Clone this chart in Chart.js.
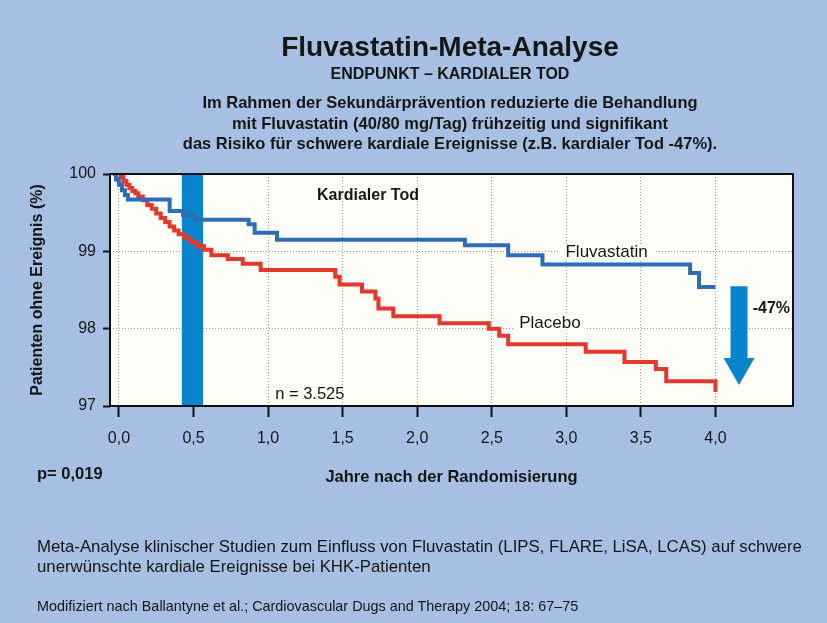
<!DOCTYPE html>
<html lang="de">
<head>
<meta charset="utf-8">
<title>Fluvastatin-Meta-Analyse</title>
<script src="https://cdn.jsdelivr.net/npm/chart.js@4.4.1/dist/chart.umd.min.js"></script>
<style>
  body { margin: 0; background: #a6bfe3; }
  #wrap { position: relative; width: 827px; height: 623px; overflow: hidden; background: #a6bfe3; }
  #chart { position: absolute; left: 0; top: 0; }
  .txt { position: absolute; color: #161616; font-family: Arial, "Liberation Sans", Helvetica, sans-serif; white-space: nowrap; }
  .head { left: 0; width: 900px; text-align: center; font-weight: bold; }
</style>
</head>
<body>
<div id="wrap">
  <canvas id="chart" width="827" height="623"></canvas>
  <div class="txt head" style="top:32px;font-size:28px;line-height:30px;">Fluvastatin-Meta-Analyse</div>
  <div class="txt head" style="top:64px;font-size:16px;line-height:20px;">ENDPUNKT – KARDIALER TOD</div>
  <div class="txt head" style="top:92px;font-size:16.5px;line-height:20.5px;">Im Rahmen der Sekundärprävention reduzierte die Behandlung<br>mit Fluvastatin (40/80 mg/Tag) frühzeitig und signifikant<br>das Risiko für schwere kardiale Ereignisse (z.B. kardialer Tod -47%).</div>
  <div class="txt" style="left:37px;top:463px;font-size:16.5px;line-height:20px;font-weight:bold;">p= 0,019</div>
  <div class="txt" style="left:37px;top:537px;font-size:16.8px;line-height:20px;">Meta-Analyse klinischer Studien zum Einfluss von Fluvastatin (LIPS, FLARE, LiSA, LCAS) auf schwere<br>unerwünschte kardiale Ereignisse bei KHK-Patienten</div>
  <div class="txt" style="left:37px;top:598px;font-size:14.4px;line-height:16px;">Modifiziert nach Ballantyne et al.; Cardiovascular Dugs and Therapy 2004; 18: 67–75</div>
</div>
<script>
// Kaplan-Meier steps (years, % without event)
const fluvaYears  = [-0.04, -0.02, 0.00, 0.02, 0.04, 0.06, 0.34, 0.43, 0.51, 0.87, 0.91, 1.06, 2.32, 2.61, 2.84, 3.83, 3.89, 4.00];
const fluvaValues = [100, 99.93, 99.86, 99.79, 99.73, 99.67, 99.52, 99.47, 99.41, 99.35, 99.24, 99.15, 99.08, 98.95, 98.83, 98.72, 98.54, 98.54];

const placeboYears  = [0.00, 0.01, 0.03, 0.05, 0.07, 0.09, 0.11, 0.13, 0.16, 0.19, 0.22, 0.25, 0.28, 0.31, 0.34, 0.37, 0.40, 0.44, 0.48, 0.52, 0.57, 0.62, 0.73, 0.83, 0.95, 1.45, 1.48, 1.63, 1.72, 1.74, 1.84, 2.15, 2.48, 2.55, 2.61, 3.13, 3.39, 3.60, 3.67, 4.00];
const placeboValues = [100, 99.96, 99.91, 99.86, 99.82, 99.78, 99.75, 99.71, 99.66, 99.60, 99.55, 99.49, 99.43, 99.38, 99.32, 99.27, 99.22, 99.17, 99.12, 99.07, 99.02, 98.95, 98.90, 98.84, 98.76, 98.67, 98.57, 98.48, 98.39, 98.26, 98.16, 98.07, 98.00, 97.91, 97.80, 97.70, 97.57, 97.48, 97.32, 97.18];

// highlighted interval (6 months)
const bandYears = [0.42, 0.565];

const xTickValues = [0, 0.5, 1, 1.5, 2, 2.5, 3, 3.5, 4];
const yTickValues = [97, 98, 99, 100];

const toPoints = (xs, ys) => xs.map((x, i) => ({x: x, y: ys[i]}));

const FONT = 'Arial, "Liberation Sans", Helvetica, sans-serif';
const INK = '#161616';
const BAND = '#0a84cc';

const chartNotes = {
  id: 'chartNotes',
  beforeDraw(chart) {
    const a = chart.chartArea;
    chart.ctx.save();
    chart.ctx.fillStyle = '#fdfdf8';
    chart.ctx.fillRect(a.left, a.top, a.width, a.height);
    chart.ctx.restore();
  },
  beforeDatasetsDraw(chart) {
    // knock the grid out behind the curve labels
    const {ctx, scales: {x, y}} = chart;
    ctx.save();
    ctx.fillStyle = '#fdfdf8';
    ctx.fillRect(x.getPixelForValue(3.27) - 47, y.getPixelForValue(98.99) - 8, 94, 16);
    ctx.fillRect(x.getPixelForValue(2.89) - 35, y.getPixelForValue(98.07) - 8, 70, 16);
    ctx.restore();
  },
  afterDatasetsDraw(chart) {
    const {ctx, chartArea: a, scales: {x, y}} = chart;
    ctx.save();
    ctx.strokeStyle = '#111';
    ctx.lineWidth = 2;
    ctx.strokeRect(a.left, a.top, a.width, a.height);

    ctx.fillStyle = INK;
    ctx.textAlign = 'center';
    ctx.textBaseline = 'middle';
    ctx.font = 'bold 16px ' + FONT;
    ctx.fillText('Kardialer Tod', x.getPixelForValue(1.67), y.getPixelForValue(99.72));
    ctx.font = '17px ' + FONT;
    ctx.fillText('Fluvastatin', x.getPixelForValue(3.27), y.getPixelForValue(98.99));
    ctx.fillText('Placebo', x.getPixelForValue(2.89), y.getPixelForValue(98.07));
    ctx.font = '16.5px ' + FONT;
    ctx.fillText('n = 3.525', x.getPixelForValue(1.28), y.getPixelForValue(97.15));
    ctx.font = 'bold 16px ' + FONT;
    ctx.fillText('-47%', x.getPixelForValue(4.375), y.getPixelForValue(98.26));

    // reduction arrow
    const ax = x.getPixelForValue(4.158);
    const top = y.getPixelForValue(98.55);
    const neck = y.getPixelForValue(97.62);
    const tip = y.getPixelForValue(97.27);
    ctx.fillStyle = BAND;
    ctx.beginPath();
    ctx.moveTo(ax - 8.5, top);
    ctx.lineTo(ax + 8.5, top);
    ctx.lineTo(ax + 8.5, neck);
    ctx.lineTo(ax + 15.5, neck);
    ctx.lineTo(ax, tip);
    ctx.lineTo(ax - 15.5, neck);
    ctx.lineTo(ax - 8.5, neck);
    ctx.closePath();
    ctx.fill();
    ctx.restore();
  }
};

const data = {
  datasets: [
    {
      label: 'Fluvastatin',
      data: toPoints(fluvaYears, fluvaValues),
      borderColor: '#2c6db6',
      borderWidth: 4,
      stepped: true,
      pointRadius: 0,
      fill: false,
      order: 1
    },
    {
      label: 'Placebo',
      data: toPoints(placeboYears, placeboValues),
      borderColor: '#e4382c',
      borderWidth: 4,
      stepped: true,
      pointRadius: 0,
      fill: false,
      order: 2
    },
    {
      label: '6 Monate',
      data: toPoints(bandYears, [100, 100]),
      borderWidth: 0,
      pointRadius: 0,
      backgroundColor: BAND,
      fill: 'start',
      order: 3
    }
  ]
};

const config = {
  type: 'line',
  data: data,
  options: {
    responsive: false,
    animation: false,
    devicePixelRatio: 1,
    layout: { padding: { left: 20, top: 174, right: 34, bottom: 100 } },
    plugins: {
      legend: { display: false },
      tooltip: { enabled: false }
    },
    scales: {
      x: {
        type: 'linear',
        min: -0.06,
        max: 4.52,
        afterBuildTicks: (scale) => { scale.ticks = xTickValues.map(v => ({value: v})); },
        afterFit: (scale) => { scale.height = 117; },
        grid: { color: '#9c9890', lineWidth: 1, tickColor: '#111', tickWidth: 2, tickLength: 11 },
        border: { display: false, dash: [1, 2] },
        ticks: {
          padding: 12,
          color: INK,
          font: { size: 16, family: FONT },
          callback: (v) => v.toFixed(1).replace('.', ',')
        },
        title: {
          display: true,
          text: 'Jahre nach der Randomisierung',
          color: INK,
          font: { size: 16.5, weight: 'bold', family: FONT },
          padding: { top: 0, bottom: 36 }
        }
      },
      y: {
        min: 97,
        max: 100,
        afterBuildTicks: (scale) => { scale.ticks = yTickValues.map(v => ({value: v})); },
        afterFit: (scale) => { scale.width = 90; },
        grid: { color: '#9c9890', lineWidth: 1, tickColor: '#111', tickWidth: 2, tickLength: 7 },
        border: { display: false, dash: [1, 2] },
        ticks: {
          padding: 7,
          color: INK,
          font: { size: 16, family: FONT }
        },
        title: {
          display: true,
          text: 'Patienten ohne Ereignis (%)',
          color: INK,
          font: { size: 16, weight: 'bold', family: FONT },
          padding: { top: 8, bottom: 0 }
        }
      }
    }
  },
  plugins: [chartNotes]
};

const myChart = new Chart(document.getElementById('chart'), config);
</script>
</body>
</html>
